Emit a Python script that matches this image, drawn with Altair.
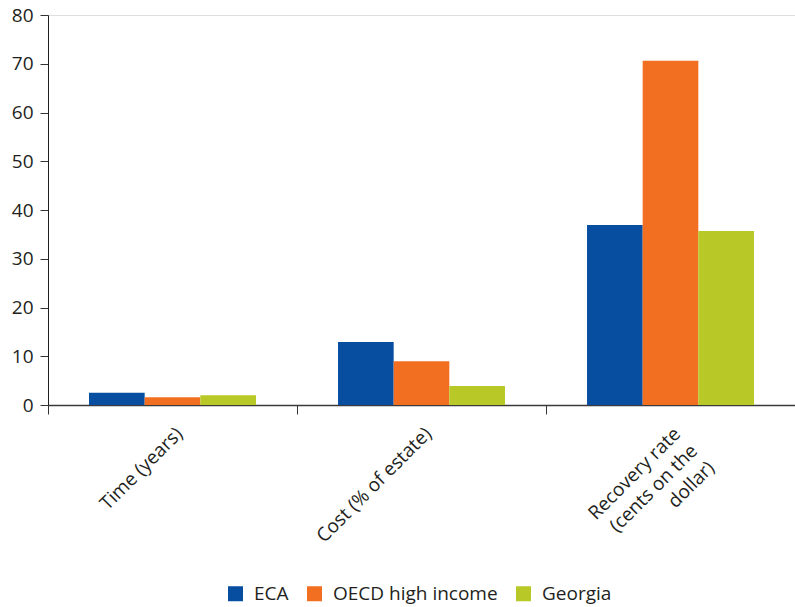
import altair as alt
import pandas as pd

# Insolvency indicators by economy group
categories = ["Time (years)", "Cost (% of estate)", "Recovery rate (cents on the dollar)"]
groups = ["ECA", "OECD high income", "Georgia"]
eca = [2.5, 12.9, 36.9]
oecd = [1.6, 9.0, 70.6]
georgia = [2.0, 3.9, 35.7]
colors = ["#074EA1", "#F26F21", "#B8C826"]

rows = []
for series, vals in zip(groups, [eca, oecd, georgia]):
    for cat, v in zip(categories, vals):
        rows.append({"indicator": cat, "group": series, "value": v})
df = pd.DataFrame(rows)

FONT = "Open Sans"
TEXT = "#231F20"
FS = 19

label_expr = (
    "datum.label == 'Recovery rate (cents on the dollar)' ? "
    "['Recovery rate', '(cents on the', 'dollar)'] : datum.label"
)

chart = (
    alt.Chart(df)
    .mark_bar()
    .encode(
        x=alt.X(
            "indicator:N",
            sort=categories,
            title=None,
            scale=alt.Scale(paddingInner=0, paddingOuter=0),
            axis=alt.Axis(
                labelAngle=-45,
                labelAlign="right",
                labelBaseline="top",
                labelExpr=label_expr,
                labelFontSize=FS,
                labelFont=FONT,
                labelColor=TEXT,
                labelPadding=10,
                labelOffset=0,
                labelLineHeight=24,
                tickBand="extent",
                tickSize=9,
                tickColor="#333333",
                domainColor="#3A3A3A",
                domainWidth=1.5,
            ),
        ),
        xOffset=alt.XOffset(
            "group:N",
            sort=groups,
            scale=alt.Scale(paddingInner=0, paddingOuter=0.737),
        ),
        y=alt.Y(
            "value:Q",
            title=None,
            scale=alt.Scale(domain=[0, 80]),
            axis=alt.Axis(
                values=list(range(0, 81, 10)),
                grid=False,
                tickSize=8,
                tickColor="#333333",
                domainColor="#231F20",
                labelFontSize=FS,
                labelFont=FONT,
                labelColor=TEXT,
                labelPadding=7,
            ),
        ),
        color=alt.Color(
            "group:N",
            sort=groups,
            scale=alt.Scale(domain=groups, range=colors),
            legend=alt.Legend(
                title=None,
                orient="none",
                direction="horizontal",
                legendX=178,
                legendY=569,
                symbolType="square",
                symbolSize=225,
                symbolStrokeWidth=0,
                symbolOpacity=1,
                labelFontSize=FS,
                labelFont=FONT,
                labelColor=TEXT,
                labelLimit=400,
                columnPadding=16,
                labelOffset=9,
            ),
        ),
    )
    .properties(
        width=747,
        height=390,
        autosize=alt.AutoSizeParams(type="none"),
        padding={"left": 48, "top": 15, "right": 0, "bottom": 202},
    )
    .configure_view(stroke="transparent", strokeWidth=0)
    .configure(background="white")
)

chart.save("out.html", embed_options={"renderer": "svg", "actions": False})
